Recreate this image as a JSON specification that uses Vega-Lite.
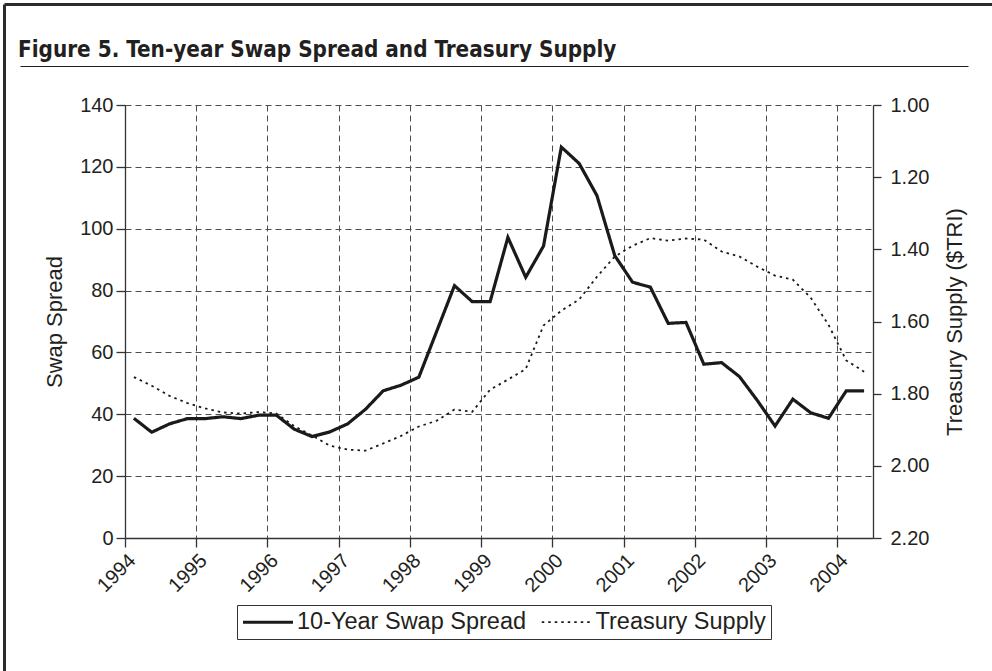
{
  "$schema": "https://vega.github.io/schema/vega-lite/v6.json",
  "autosize": "none",
  "width": 748,
  "height": 433,
  "padding": {"left": 125, "top": 105, "right": 119, "bottom": 133},
  "background": "white",
  "title": {
    "text": "Figure 5.  Ten-year Swap Spread and Treasury Supply",
    "anchor": "start",
    "frame": "group",
    "font": "DejaVu Sans Condensed",
    "fontSize": 22.3,
    "fontWeight": "bold",
    "color": "#231f20",
    "dx": -107,
    "dy": 84,
    "baseline": "alphabetic",
    "offset": 9
  },
  "config": {
    "view": {"stroke": null},
    "font": "Liberation Sans",
    "axis": {
      "labelFont": "Liberation Sans",
      "titleFont": "Liberation Sans",
      "labelFontSize": 20,
      "titleFontSize": 22,
      "titleFontWeight": "normal",
      "labelColor": "#231f20",
      "titleColor": "#231f20",
      "domainColor": "#333333",
      "tickColor": "#333333",
      "domainWidth": 1.3,
      "tickWidth": 1.3,
      "tickSize": 9,
      "gridColor": "#4d4d4d",
      "gridDash": [6, 4],
      "gridWidth": 1
    },
    "legend": {
      "labelFont": "Liberation Sans",
      "labelFontSize": 23.5,
      "labelColor": "#231f20"
    }
  },
  "datasets": {
    "swap": [
      {"t": 1994.125, "v": 38.7}, {"t": 1994.375, "v": 34.2}, {"t": 1994.625, "v": 36.9}, {"t": 1994.875, "v": 38.6},
      {"t": 1995.125, "v": 38.6}, {"t": 1995.375, "v": 39.2}, {"t": 1995.625, "v": 38.6}, {"t": 1995.875, "v": 39.7},
      {"t": 1996.125, "v": 39.7}, {"t": 1996.375, "v": 35.2}, {"t": 1996.625, "v": 32.8}, {"t": 1996.875, "v": 34.3},
      {"t": 1997.125, "v": 36.9}, {"t": 1997.375, "v": 41.6}, {"t": 1997.625, "v": 47.6}, {"t": 1997.875, "v": 49.4},
      {"t": 1998.125, "v": 52.0}, {"t": 1998.375, "v": 66.8}, {"t": 1998.625, "v": 81.6}, {"t": 1998.875, "v": 76.4},
      {"t": 1999.125, "v": 76.4}, {"t": 1999.375, "v": 97.2}, {"t": 1999.625, "v": 84.3}, {"t": 1999.875, "v": 94.4},
      {"t": 2000.125, "v": 126.4}, {"t": 2000.375, "v": 121.1}, {"t": 2000.625, "v": 110.7}, {"t": 2000.875, "v": 91.3},
      {"t": 2001.125, "v": 82.7}, {"t": 2001.375, "v": 81.1}, {"t": 2001.625, "v": 69.4}, {"t": 2001.875, "v": 69.7},
      {"t": 2002.125, "v": 56.2}, {"t": 2002.375, "v": 56.7}, {"t": 2002.625, "v": 52.2}, {"t": 2002.875, "v": 44.5},
      {"t": 2003.125, "v": 36.2}, {"t": 2003.375, "v": 44.9}, {"t": 2003.625, "v": 40.5}, {"t": 2003.875, "v": 38.7},
      {"t": 2004.125, "v": 47.6}, {"t": 2004.375, "v": 47.6}
    ],
    "supply": [
      {"t": 1994.125, "v": 1.754}, {"t": 1994.375, "v": 1.778}, {"t": 1994.625, "v": 1.806}, {"t": 1994.875, "v": 1.826},
      {"t": 1995.125, "v": 1.841}, {"t": 1995.375, "v": 1.852}, {"t": 1995.625, "v": 1.855}, {"t": 1995.875, "v": 1.851},
      {"t": 1996.125, "v": 1.855}, {"t": 1996.375, "v": 1.890}, {"t": 1996.625, "v": 1.916}, {"t": 1996.875, "v": 1.944},
      {"t": 1997.125, "v": 1.955}, {"t": 1997.375, "v": 1.958}, {"t": 1997.625, "v": 1.938}, {"t": 1997.875, "v": 1.917},
      {"t": 1998.125, "v": 1.891}, {"t": 1998.375, "v": 1.875}, {"t": 1998.625, "v": 1.844}, {"t": 1998.875, "v": 1.850},
      {"t": 1999.125, "v": 1.789}, {"t": 1999.375, "v": 1.761}, {"t": 1999.625, "v": 1.732}, {"t": 1999.875, "v": 1.611},
      {"t": 2000.125, "v": 1.570}, {"t": 2000.375, "v": 1.539}, {"t": 2000.625, "v": 1.476}, {"t": 2000.875, "v": 1.420},
      {"t": 2001.125, "v": 1.390}, {"t": 2001.375, "v": 1.369}, {"t": 2001.625, "v": 1.376}, {"t": 2001.875, "v": 1.370},
      {"t": 2002.125, "v": 1.373}, {"t": 2002.375, "v": 1.406}, {"t": 2002.625, "v": 1.420}, {"t": 2002.875, "v": 1.448},
      {"t": 2003.125, "v": 1.473}, {"t": 2003.375, "v": 1.484}, {"t": 2003.625, "v": 1.534}, {"t": 2003.875, "v": 1.609},
      {"t": 2004.125, "v": 1.708}, {"t": 2004.375, "v": 1.739}
    ]
  },
  "layer": [
    {
      "data": {"name": "swap"},
      "mark": {"type": "line", "color": "#1a1a1a", "strokeJoin": "miter"},
      "encoding": {
        "x": {
          "field": "t",
          "type": "quantitative",
          "scale": {"domain": [1994, 2004.5], "nice": false, "zero": false},
          "axis": {
            "title": null,
            "values": [1994, 1995, 1996, 1997, 1998, 1999, 2000, 2001, 2002, 2003, 2004],
            "format": "d",
            "labelAngle": -45,
            "grid": true,
            "labelPadding": 3
          }
        },
        "y": {
          "field": "v",
          "type": "quantitative",
          "scale": {"domain": [0, 140], "nice": false},
          "axis": {
            "title": "Swap Spread",
            "values": [0, 20, 40, 60, 80, 100, 120, 140],
            "grid": true,
            "labelPadding": 3,
            "titlePadding": 13
          }
        },
        "strokeDash": {
          "datum": "10-Year Swap Spread",
          "type": "nominal",
          "scale": {"domain": ["10-Year Swap Spread", "Treasury Supply"], "range": [[1, 0], [2.5, 4]]},
          "legend": {
            "title": null,
            "orient": "none",
            "legendX": 112,
            "legendY": 500,
            "direction": "horizontal",
            "symbolType": "M-2.5,0H2.5",
            "symbolSize": 400,
            "symbolOffset": 14,
            "symbolStrokeColor": "#1a1a1a",
            "strokeColor": "#333333",
            "padding": 5,
            "columnPadding": 11,
            "labelOffset": 17,
            "labelLimit": 400
          }
        },
        "strokeWidth": {
          "datum": "10-Year Swap Spread",
          "type": "nominal",
          "scale": {"domain": ["10-Year Swap Spread", "Treasury Supply"], "range": [3.2, 1.8]},
          "legend": null
        }
      }
    },
    {
      "data": {"name": "supply"},
      "mark": {"type": "line", "color": "#1a1a1a"},
      "encoding": {
        "x": {
          "field": "t",
          "type": "quantitative",
          "scale": {"domain": [1992.52607, 2005.83355], "range": [-105, 843], "nice": false, "zero": false},
          "axis": {
            "orient": "top",
            "offset": 39,
            "title": null,
            "labels": false,
            "ticks": false,
            "grid": false,
            "domainColor": "#231f20",
            "domainWidth": 1
          }
        },
        "y": {
          "field": "v",
          "type": "quantitative",
          "scale": {"domain": [1, 2.2], "reverse": true, "nice": false, "zero": false},
          "axis": {
            "title": "Treasury Supply ($TRI)",
            "orient": "right",
            "titleAngle": 270,
            "titleBaseline": "top",
            "values": [1, 1.2, 1.4, 1.6, 1.8, 2.0, 2.2],
            "format": ".2f",
            "grid": false,
            "tickSize": 8,
            "labelPadding": 9,
            "titlePadding": 16
          }
        },
        "strokeDash": {"datum": "Treasury Supply", "type": "nominal"},
        "strokeWidth": {"datum": "Treasury Supply", "type": "nominal"}
      }
    },
    {
      "data": {"name": "swap"},
      "mark": {"type": "line", "opacity": 0},
      "encoding": {
        "x": {
          "field": "t",
          "type": "quantitative",
          "scale": {"domain": [1994, 2004.5], "range": [-121, 880], "nice": false, "zero": false},
          "axis": {
            "orient": "top",
            "offset": 101,
            "title": null,
            "labels": false,
            "ticks": false,
            "grid": false,
            "domainColor": "#2b2b2b",
            "domainWidth": 3
          }
        },
        "y": {
          "field": "v",
          "type": "quantitative",
          "scale": {"domain": [0, 140], "range": [580, -101], "nice": false, "zero": false},
          "axis": {
            "orient": "left",
            "offset": 121,
            "title": null,
            "labels": false,
            "ticks": false,
            "grid": false,
            "domainColor": "#2b2b2b",
            "domainWidth": 3
          }
        }
      }
    }
  ],
  "resolve": {"scale": {"x": "independent", "y": "independent"}, "axis": {"x": "independent", "y": "independent"}}
}
